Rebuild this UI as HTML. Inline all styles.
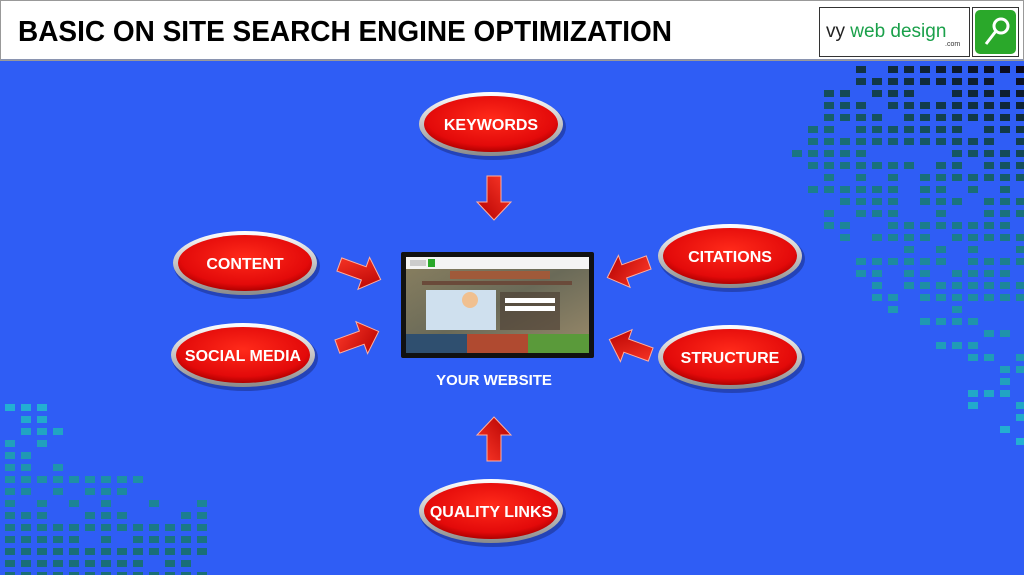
<!DOCTYPE html>
<html><head><meta charset="utf-8"><style>
html,body{margin:0;padding:0;width:1024px;height:575px;overflow:hidden;background:#2f5df5}
svg{display:block}
</style></head><body>
<svg id="s" width="1024" height="575" viewBox="0 0 1024 575" xmlns="http://www.w3.org/2000/svg">
<defs>
<radialGradient id="rg" cx="50%" cy="40%" r="60%">
<stop offset="0" stop-color="#ff2a1a"/><stop offset="0.8" stop-color="#e30a0a"/><stop offset="1" stop-color="#b00000"/>
</radialGradient>
<linearGradient id="rim" x1="0" y1="0" x2="0" y2="1">
<stop offset="0" stop-color="#ffffff"/><stop offset="1" stop-color="#8a8a8a"/>
</linearGradient>
<linearGradient id="ar" x1="0" y1="0" x2="1" y2="1">
<stop offset="0" stop-color="#ff3a2a"/><stop offset="1" stop-color="#b30000"/>
</linearGradient>
<linearGradient id="photo" x1="0" y1="0" x2="1" y2="1">
<stop offset="0" stop-color="#8a8060"/><stop offset="0.5" stop-color="#6a6a58"/><stop offset="1" stop-color="#9a8a6a"/>
</linearGradient>
</defs>
<rect x="0" y="60" width="1024" height="515" fill="#2f5df5"/>
<g id="grid"></g>
<rect x="0" y="0" width="1024" height="60" fill="#fff"/>
<line x1="0" y1="60" x2="1024" y2="60" stroke="#8a94b0" stroke-width="2"/>
<rect x="0.5" y="0.5" width="1023" height="60" fill="none" stroke="#999"/>
<text x="18" y="41" font-family="Liberation Sans, sans-serif" font-weight="bold" font-size="29" fill="#000" textLength="654" lengthAdjust="spacingAndGlyphs">BASIC ON SITE SEARCH ENGINE OPTIMIZATION</text>
<rect x="819.5" y="7.5" width="150" height="49" fill="#fff" stroke="#333"/>
<text x="826" y="37" font-family="Liberation Sans, sans-serif" font-size="19" fill="#222">vy <tspan fill="#1aa04a">web design</tspan></text>
<text x="945" y="46" font-family="Liberation Sans, sans-serif" font-size="7" fill="#333">.com</text>
<rect x="972.5" y="7.5" width="46" height="49" fill="#fff" stroke="#333"/>
<rect x="975" y="10" width="41" height="44" rx="5" fill="#2aa82a"/>
<circle cx="1001" cy="26" r="7" fill="none" stroke="#fff" stroke-width="3"/>
<line x1="996" y1="31" x2="986" y2="44" stroke="#fff" stroke-width="3"/>

<g font-family="Liberation Sans, sans-serif" font-weight="bold" fill="#fff" text-anchor="middle">
<g id="ells"></g>
<text x="494" y="385" font-size="15">YOUR WEBSITE</text>
</g>

<!-- website -->
<rect x="401" y="252" width="193" height="106" rx="2" fill="#111"/>
<rect x="406" y="257" width="183" height="96" fill="url(#photo)"/>
<rect x="406" y="257" width="183" height="12" fill="#f4f4f4"/>
<rect x="410" y="260" width="16" height="6" fill="#ccc"/><rect x="428" y="259" width="7" height="8" fill="#2aa82a"/>
<rect x="450" y="271" width="100" height="8" fill="#a05a3a"/>
<rect x="422" y="281" width="150" height="4" fill="#6a4a3a"/>
<rect x="426" y="290" width="70" height="40" fill="#cfe0ee"/>
<circle cx="470" cy="300" r="8" fill="#f0c090"/>
<rect x="500" y="292" width="60" height="38" fill="#4a3a30" opacity="0.6"/>
<rect x="505" y="298" width="50" height="5" fill="#fff"/><rect x="505" y="306" width="50" height="5" fill="#fff"/>
<rect x="406" y="334" width="61" height="19" fill="#2f4f6f"/>
<rect x="467" y="334" width="61" height="19" fill="#b04a30"/>
<rect x="528" y="334" width="61" height="19" fill="#5a9a3a"/>
</svg>
<script>
var NS="http://www.w3.org/2000/svg";
var g=document.getElementById('grid');
function r(x,y,c){var e=document.createElementNS(NS,'rect');e.setAttribute('x',x);e.setAttribute('y',y);e.setAttribute('width',10);e.setAttribute('height',7);e.setAttribute('fill',c);g.appendChild(e);}
var seed=7;function rnd(){seed=(seed*16807)%2147483647;return seed/2147483647;}
function mix(a,b,t){t=Math.max(0,Math.min(1,t));return 'rgb('+[0,1,2].map(function(i){return Math.round(a[i]+(b[i]-a[i])*t)}).join(',')+')';}
var dark=[10,5,25],teal=[25,110,120],cyan=[35,175,210];
for(var row=0;row<32;row++){var y=66+row*12;
 for(var col=0;col<16;col++){var x=776+col*16; if(x>1024)break;
  var left; if(row<2)left=5;else if(row<12)left=1+Math.abs(row-7)*0.3;else if(row<18)left=2+(row-12)*0.6;else left=5+(row-18)*0.7;
  if(col<left)continue;
  var p=row<12?0.88:(row<20?0.7:0.55);
  if(rnd()>p)continue;
  var t=row/12 + (16-col)*0.04;
  var c=t<1?mix(dark,teal,t):mix(teal,cyan,(t-1)/1.6);
  r(x,y,c);
 }}
for(var row=0;row<15;row++){var y=404+row*12;
 for(var col=0;col<13;col++){var x=5+col*16;
  var maxc=row<6?3:(row<8?8:12);
  if(col>maxc)continue;
  if(rnd()>0.62+row*0.02)continue;
  r(x,y,mix(cyan,teal,row/12));
 }}
var E=[[491,124,'KEYWORDS'],[245,263,'CONTENT'],[243,355,'SOCIAL MEDIA'],[730,256,'CITATIONS'],[730,357,'STRUCTURE'],[491,511,'QUALITY LINKS']];
var eg=document.getElementById('ells');
E.forEach(function(a){
 eg.insertAdjacentHTML('beforeend','<ellipse cx="'+(a[0]+2)+'" cy="'+(a[1]+3)+'" rx="73" ry="33" fill="#1a2a7a" opacity="0.5"/><ellipse cx="'+a[0]+'" cy="'+a[1]+'" rx="72" ry="32" fill="url(#rim)"/><ellipse cx="'+a[0]+'" cy="'+a[1]+'" rx="67" ry="28" fill="url(#rg)"/><text x="'+a[0]+'" y="'+(a[1]+6)+'" font-size="16">'+a[2]+'</text>');
});
function arrow(cx,cy,rot,len){var h=len/2;
 var d='M'+(-h)+',-7 L'+(h-18)+',-7 L'+(h-18)+',-17 L'+h+',0 L'+(h-18)+',17 L'+(h-18)+',7 L'+(-h)+',7 Z';
 eg.insertAdjacentHTML('beforeend','<path transform="translate('+cx+','+cy+') rotate('+rot+')" d="'+d+'" fill="url(#ar)" stroke="#ffb0a0" stroke-width="1"/>');}
arrow(494,198,90,44);arrow(494,439,-90,44);
arrow(360,272,20,44);arrow(358,339,-20,44);
arrow(628,270,160,44);arrow(630,347,-160,44);
</script>
</body></html>
